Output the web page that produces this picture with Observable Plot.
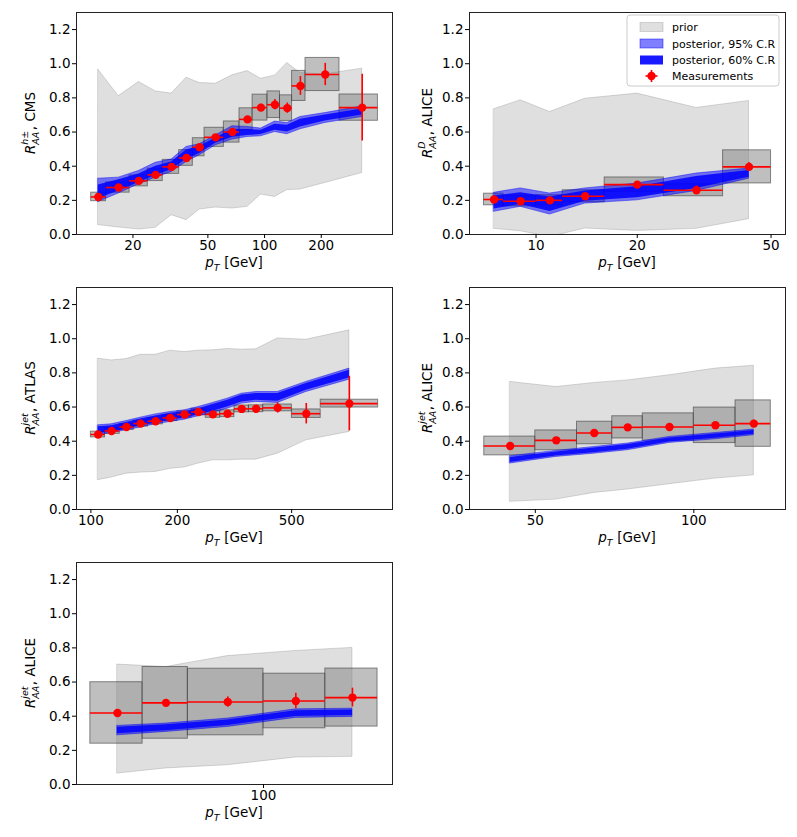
<!DOCTYPE html>
<html>
<head>
<meta charset="utf-8">
<script src="https://cdn.jsdelivr.net/npm/d3@7"></script>
<script src="https://cdn.jsdelivr.net/npm/@observablehq/plot@0.6"></script>
<style>
  html, body { margin: 0; padding: 0; background: white; }
  #root { position: relative; width: 797px; height: 837px; background: white; }
  #root svg { position: absolute; }
</style>
</head>
<body>
<div id="root"></div>
<script>
// ---------- CMS charged hadrons ----------
const cmsEdges = [12, 14.4, 19.2, 24, 28.8, 35.2, 41.6, 48, 60.8, 73.6, 86.4, 103.6, 120.8, 140, 165, 250, 400];
const cmsPt = [13.1, 16.8, 21.5, 26.4, 32.1, 38.5, 45.2, 55, 67.5, 81.2, 95.7, 113.6, 132, 155, 210, 330];
const cmsR = [0.22, 0.275, 0.314, 0.349, 0.396, 0.448, 0.511, 0.569, 0.60, 0.674, 0.743, 0.76, 0.74, 0.87, 0.937, 0.743];
const cmsStat = [0.01, 0.01, 0.01, 0.01, 0.01, 0.01, 0.012, 0.012, 0.013, 0.015, 0.02, 0.03, 0.03, 0.055, 0.065, 0.195];
const cmsSys = [0.025, 0.03, 0.032, 0.036, 0.041, 0.046, 0.053, 0.056, 0.062, 0.065, 0.076, 0.078, 0.075, 0.088, 0.097, 0.077];
const cmsPriorHi = [0.965, 0.81, 0.893, 0.838, 0.825, 0.918, 0.887, 0.883, 0.932, 0.957, 0.912, 0.93, 1.004, 0.945, 0.938, 0.971];
const cmsPriorLo = [0.055, 0.041, 0.029, 0.039, 0.113, 0.084, 0.146, 0.158, 0.152, 0.162, 0.234, 0.22, 0.26, 0.263, 0.302, 0.36];
const cmsP95Hi = [0.327, 0.333, 0.372, 0.42, 0.439, 0.513, 0.528, 0.58, 0.634, 0.63, 0.62, 0.661, 0.653, 0.688, 0.711, 0.75];
const cmsP95Lo = [0.19, 0.24, 0.294, 0.333, 0.366, 0.425, 0.464, 0.522, 0.556, 0.571, 0.575, 0.60, 0.587, 0.616, 0.653, 0.688];
const cmsP60Hi = [0.29, 0.32, 0.355, 0.40, 0.425, 0.495, 0.515, 0.565, 0.615, 0.615, 0.61, 0.645, 0.64, 0.675, 0.70, 0.735];
const cmsP60Lo = [0.21, 0.255, 0.305, 0.345, 0.38, 0.44, 0.475, 0.535, 0.57, 0.58, 0.585, 0.61, 0.60, 0.63, 0.665, 0.70];

// ---------- ALICE D mesons ----------
const dEdges = [7, 8, 10, 12, 16, 24, 36, 50];
const dPt = [7.5, 9, 11, 14, 20, 30, 43];
const dR = [0.205, 0.195, 0.20, 0.224, 0.292, 0.259, 0.396];
const dStat = [0.01, 0.01, 0.01, 0.012, 0.012, 0.025, 0.025];
const dSys = [0.034, 0.03, 0.03, 0.035, 0.042, 0.035, 0.097];
const dPriorHi = [0.733, 0.786, 0.717, 0.795, 0.825, 0.741, 0.782];
const dPriorLo = [0.033, 0.019, -0.015, 0.035, 0.021, 0.033, 0.09];
const dP95Hi = [0.244, 0.27, 0.24, 0.27, 0.298, 0.357, 0.386];
const dP95Lo = [0.133, 0.162, 0.117, 0.181, 0.20, 0.255, 0.327];
const dP60Hi = [0.225, 0.245, 0.22, 0.255, 0.28, 0.34, 0.375];
const dP60Lo = [0.15, 0.175, 0.135, 0.195, 0.215, 0.27, 0.335];

// ---------- ATLAS jets ----------
const atlasEdges = [100, 112, 126, 141, 158, 178, 200, 224, 251, 282, 316, 355, 398, 501, 631, 1000];
const atlasPt = [106, 118, 133, 149, 168, 189, 212, 237, 266, 299, 335, 376, 447, 562, 794];
const atlasR = [0.439, 0.46, 0.483, 0.503, 0.517, 0.536, 0.556, 0.571, 0.557, 0.561, 0.589, 0.59, 0.595, 0.561, 0.62];
const atlasStat = [0.008, 0.008, 0.008, 0.008, 0.008, 0.008, 0.008, 0.008, 0.01, 0.01, 0.012, 0.015, 0.03, 0.06, 0.16];
const atlasSys = [0.017, 0.017, 0.017, 0.017, 0.018, 0.018, 0.018, 0.019, 0.02, 0.02, 0.02, 0.02, 0.02, 0.025, 0.023];
const atlasPriorHi = [0.883, 0.873, 0.881, 0.906, 0.906, 0.93, 0.922, 0.93, 0.932, 0.94, 0.936, 0.938, 1.002, 0.994, 1.049];
const atlasPriorLo = [0.172, 0.187, 0.21, 0.216, 0.22, 0.238, 0.246, 0.269, 0.288, 0.288, 0.292, 0.292, 0.327, 0.405, 0.454];
const atlasP95Hi = [0.493, 0.499, 0.518, 0.538, 0.557, 0.571, 0.581, 0.60, 0.624, 0.649, 0.678, 0.688, 0.688, 0.747, 0.825];
const atlasP95Lo = [0.435, 0.448, 0.464, 0.48, 0.499, 0.513, 0.526, 0.546, 0.565, 0.59, 0.62, 0.63, 0.624, 0.688, 0.76];
const atlasP60Hi = [0.485, 0.49, 0.51, 0.53, 0.548, 0.563, 0.573, 0.59, 0.615, 0.64, 0.67, 0.68, 0.68, 0.738, 0.815];
const atlasP60Lo = [0.445, 0.455, 0.472, 0.49, 0.508, 0.522, 0.535, 0.555, 0.575, 0.60, 0.63, 0.64, 0.634, 0.698, 0.77];

// ---------- ALICE jets (a) ----------
const aj1Edges = [40, 50, 60, 70, 80, 100, 120, 140];
const aj1Pt = [44.8, 54.8, 64.7, 74.9, 89.9, 109.9, 130];
const aj1R = [0.372, 0.405, 0.448, 0.481, 0.483, 0.493, 0.503];
const aj1Stat = [0.008, 0.008, 0.008, 0.01, 0.01, 0.015, 0.02];
const aj1Sys = [0.055, 0.058, 0.066, 0.065, 0.08, 0.104, 0.136];
const aj1PriorHi = [0.747, 0.717, 0.741, 0.756, 0.786, 0.825, 0.842];
const aj1PriorLo = [0.045, 0.058, 0.097, 0.117, 0.148, 0.181, 0.20];
const aj1P95Hi = [0.312, 0.343, 0.366, 0.386, 0.425, 0.448, 0.468];
const aj1P95Lo = [0.269, 0.308, 0.327, 0.347, 0.39, 0.411, 0.435];
const aj1P60Hi = [0.305, 0.337, 0.36, 0.38, 0.419, 0.442, 0.462];
const aj1P60Lo = [0.275, 0.313, 0.333, 0.353, 0.396, 0.417, 0.44];

// ---------- ALICE jets (b) ----------
const aj2Edges = [60, 70, 80, 100, 120, 140];
const aj2Pt = [65, 75, 90, 110, 130];
const aj2R = [0.419, 0.478, 0.483, 0.489, 0.509];
const aj2Stat = [0.01, 0.015, 0.03, 0.045, 0.055];
const aj2Sys = [0.18, 0.21, 0.195, 0.16, 0.17];
const aj2PriorHi = [0.702, 0.688, 0.752, 0.782, 0.80];
const aj2PriorLo = [0.064, 0.094, 0.113, 0.158, 0.162];
const aj2P95Hi = [0.343, 0.357, 0.386, 0.44, 0.444];
const aj2P95Lo = [0.288, 0.308, 0.337, 0.39, 0.396];
const aj2P60Hi = [0.335, 0.35, 0.378, 0.432, 0.436];
const aj2P60Lo = [0.297, 0.315, 0.345, 0.398, 0.404];

const yTicks = [0, 0.2, 0.4, 0.6, 0.8, 1.0, 1.2];
const legendLabels = ["prior", "posterior, 95% C.R", "posterior, 60% C.R", "Measurements"];

const FONT = "DejaVu Sans";
const FS = 13.5;     // tick & axis label size
const FSS = 9.5;     // sub/superscript size
const FSL = 11;      // legend size

const panels = [
  {edges: cmsEdges, pt: cmsPt, r: cmsR, stat: cmsStat, sys: cmsSys, prHi: cmsPriorHi, prLo: cmsPriorLo,
   p95Hi: cmsP95Hi, p95Lo: cmsP95Lo, p60Hi: cmsP60Hi, p60Lo: cmsP60Lo,
   domain: [10.03, 478], ticks: [20, 50, 100, 200], left: 0, top: 0, ylx: 35,
   ylabel: [{t: "R", i: true}, {sub: "AA", sup: "h±"}, {t: ", CMS"}]},
  {edges: dEdges, pt: dPt, r: dR, stat: dStat, sys: dSys, prHi: dPriorHi, prLo: dPriorLo,
   p95Hi: dP95Hi, p95Lo: dP95Lo, p60Hi: dP60Hi, p60Lo: dP60Lo,
   domain: [6.34, 55.2], ticks: [10, 20, 50], left: 393, top: 0, ylx: 39, legend: true,
   ylabel: [{t: "R", i: true}, {sub: "AA", sup: "D"}, {t: ", ALICE"}]},
  {edges: atlasEdges, pt: atlasPt, r: atlasR, stat: atlasStat, sys: atlasSys, prHi: atlasPriorHi, prLo: atlasPriorLo,
   p95Hi: atlasP95Hi, p95Lo: atlasP95Lo, p60Hi: atlasP60Hi, p60Lo: atlasP60Lo,
   domain: [89.1, 1122], ticks: [100, 200, 500], left: 0, top: 275, ylx: 35,
   ylabel: [{t: "R", i: true}, {sub: "AA", sup: "jet"}, {t: ", ATLAS"}]},
  {edges: aj1Edges, pt: aj1Pt, r: aj1R, stat: aj1Stat, sys: aj1Sys, prHi: aj1PriorHi, prLo: aj1PriorLo,
   p95Hi: aj1P95Hi, p95Lo: aj1P95Lo, p60Hi: aj1P60Hi, p60Lo: aj1P60Lo,
   domain: [37.5, 149.3], ticks: [50, 100], left: 393, top: 275, ylx: 39,
   ylabel: [{t: "R", i: true}, {sub: "AA", sup: "jet"}, {t: ", ALICE"}]},
  {edges: aj2Edges, pt: aj2Pt, r: aj2R, stat: aj2Stat, sys: aj2Sys, prHi: aj2PriorHi, prLo: aj2PriorLo,
   p95Hi: aj2P95Hi, p95Lo: aj2P95Lo, p60Hi: aj2P60Hi, p60Lo: aj2P60Lo,
   domain: [57.6, 146.3], ticks: [100], left: 0, top: 550, ylx: 35,
   ylabel: [{t: "R", i: true}, {sub: "AA", sup: "jet"}, {t: ", ALICE"}]}
];

function mathText(sel, x, y, rot, parts) {
  const g = sel.append("g")
    .attr("transform", `translate(${x},${y}) rotate(${rot})`)
    .attr("text-anchor", "start")
    .attr("font-family", FONT)
    .attr("fill", "black");
  const inner = g.append("g");
  let cx = 0;
  for (const p of parts) {
    if (p.t !== undefined) {
      const el = inner.append("text").attr("x", cx).attr("y", 0).attr("font-size", FS)
        .attr("font-style", p.i ? "italic" : null).text(p.t);
      cx += el.node().getComputedTextLength();
    } else {
      let w = 0;
      if (p.sub) {
        const el = inner.append("text").attr("x", cx).attr("y", 3.6).attr("font-size", FSS)
          .attr("font-style", "italic").text(p.sub);
        w = Math.max(w, el.node().getComputedTextLength());
      }
      if (p.sup) {
        const el = inner.append("text").attr("x", cx).attr("y", -6.8).attr("font-size", FSS)
          .attr("font-style", "italic").text(p.sup);
        w = Math.max(w, el.node().getComputedTextLength());
      }
      cx += w + 0.5;
    }
  }
  inner.attr("transform", `translate(${-cx / 2},0)`);
}

const root = document.getElementById("root");

for (const s of panels) {
  const rows = s.pt.map((pt, i) => ({
    pt, r: s.r[i], stat: s.stat[i], sys: s.sys[i],
    lo: s.edges[i], hi: s.edges[i + 1],
    prLo: s.prLo[i], prHi: s.prHi[i],
    p95Lo: s.p95Lo[i], p95Hi: s.p95Hi[i],
    p60Lo: s.p60Lo[i], p60Hi: s.p60Hi[i]
  }));
  const svg = Plot.plot({
    width: 400, height: 275,
    marginLeft: 76, marginRight: 8, marginTop: 12, marginBottom: 41,
    style: {fontFamily: FONT, fontSize: FS + "px", color: "black", background: "white", overflow: "visible"},
    x: {type: "log", domain: s.domain},
    y: {domain: [0, 1.3]},
    marks: [
      Plot.areaY(rows, {x: "pt", y1: "prLo", y2: "prHi", fill: "#808080", fillOpacity: 0.25,
        stroke: "#808080", strokeOpacity: 0.3, strokeWidth: 1, clip: true}),
      Plot.rect(rows, {x1: "lo", x2: "hi", y1: d => d.r - d.sys, y2: d => d.r + d.sys,
        fill: "#808080", fillOpacity: 0.5, stroke: "#333", strokeOpacity: 0.55, strokeWidth: 1, clip: true}),
      Plot.areaY(rows, {x: "pt", y1: "p95Lo", y2: "p95Hi", fill: "blue", fillOpacity: 0.5,
        stroke: "blue", strokeOpacity: 0.45, strokeWidth: 1}),
      Plot.areaY(rows, {x: "pt", y1: "p60Lo", y2: "p60Hi", fill: "blue", fillOpacity: 0.85}),
      Plot.ruleY(rows, {y: "r", x1: "lo", x2: "hi", stroke: "red", strokeWidth: 1.6}),
      Plot.ruleX(rows, {x: "pt", y1: d => d.r - d.stat, y2: d => d.r + d.stat, stroke: "red", strokeWidth: 1.6}),
      Plot.dot(rows, {x: "pt", y: "r", r: 4.2, fill: "red"}),
      Plot.frame({stroke: "#222", strokeWidth: 1}),
      Plot.axisY({ticks: yTicks, tickFormat: d3.format(".1f"), tickSize: 4, tickPadding: 2, label: null,
        fontSize: FS, fontFamily: FONT}),
      Plot.axisX({ticks: s.ticks, tickFormat: d3.format("d"), tickSize: 4, tickPadding: 2, label: null,
        fontSize: FS, fontFamily: FONT})
    ]
  });
  svg.style.left = s.left + "px";
  svg.style.top = s.top + "px";
  root.appendChild(svg);
  const sel = d3.select(svg);
  mathText(sel, 234, 267, 0, [{t: "p", i: true}, {sub: "T"}, {t: " [GeV]"}]);
  mathText(sel, s.ylx, 123, -90, s.ylabel);

  if (s.legend) {
    const lg = sel.append("g").attr("text-anchor", "start").attr("font-family", FONT);
    lg.append("rect").attr("x", 234).attr("y", 15).attr("width", 152).attr("height", 71).attr("rx", 3)
      .attr("fill", "white").attr("fill-opacity", 0.8).attr("stroke", "#cccccc");
    const ys = [27, 43.5, 60, 76];
    const px = 247, pw = 23, ph = 9;
    lg.append("rect").attr("x", px).attr("y", ys[0] - ph / 2).attr("width", pw).attr("height", ph)
      .attr("fill", "#808080").attr("fill-opacity", 0.25).attr("stroke", "#808080").attr("stroke-opacity", 0.3);
    lg.append("rect").attr("x", px).attr("y", ys[1] - ph / 2).attr("width", pw).attr("height", ph)
      .attr("fill", "blue").attr("fill-opacity", 0.5).attr("stroke", "blue").attr("stroke-opacity", 0.45);
    lg.append("rect").attr("x", px).attr("y", ys[2] - ph / 2).attr("width", pw).attr("height", ph)
      .attr("fill", "blue").attr("fill-opacity", 0.9);
    const mx = px + pw / 2;
    lg.append("line").attr("x1", mx - 6).attr("x2", mx + 6).attr("y1", ys[3]).attr("y2", ys[3]).attr("stroke", "red").attr("stroke-width", 1.6);
    lg.append("line").attr("x1", mx).attr("x2", mx).attr("y1", ys[3] - 6).attr("y2", ys[3] + 6).attr("stroke", "red").attr("stroke-width", 1.6);
    lg.append("circle").attr("cx", mx).attr("cy", ys[3]).attr("r", 4.2).attr("fill", "red");
    legendLabels.forEach((t, i) => {
      lg.append("text").attr("x", 279).attr("y", ys[i] + 4).attr("font-size", FSL).attr("fill", "black").text(t);
    });
  }
}
</script>
</body>
</html>
